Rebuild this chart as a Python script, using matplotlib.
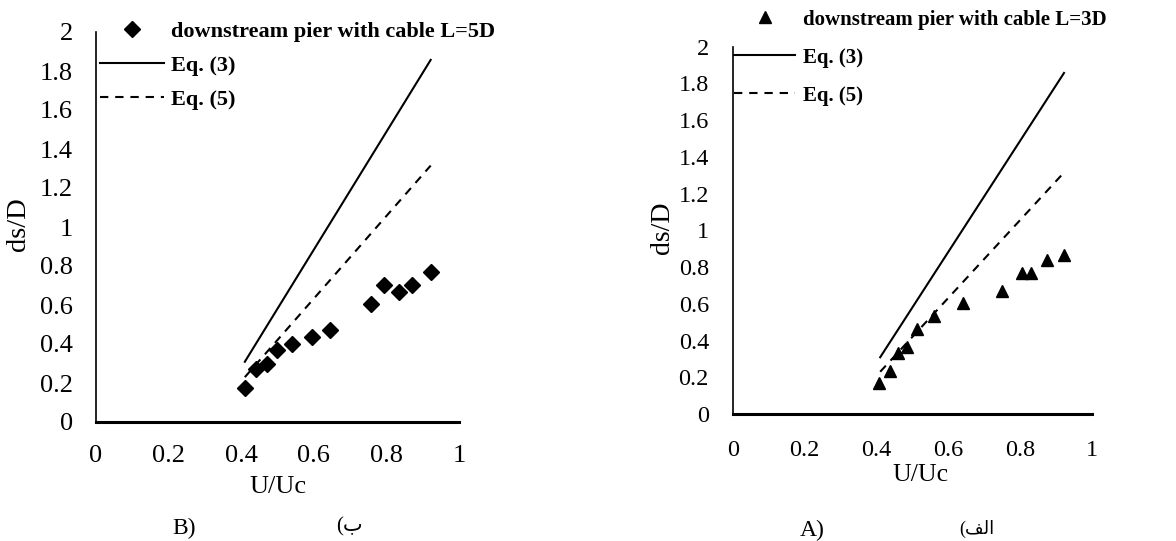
import matplotlib
matplotlib.use("Agg")
import matplotlib.pyplot as plt

plt.rcParams['font.family'] = ['Liberation Serif', 'DejaVu Sans']

# ---- data: panel B (L=5D) ----
x_5d = [0.41, 0.441, 0.47, 0.498, 0.539, 0.594, 0.645, 0.757, 0.794, 0.834, 0.87, 0.923]
y_5d = [0.173, 0.27, 0.30, 0.369, 0.40, 0.437, 0.47, 0.605, 0.705, 0.668, 0.705, 0.77]

# ---- data: panel A (L=3D) ----
x_3d = [0.408, 0.436, 0.459, 0.486, 0.512, 0.561, 0.64, 0.749, 0.804, 0.83, 0.876, 0.922]
y_3d = [0.167, 0.236, 0.33, 0.366, 0.464, 0.533, 0.602, 0.671, 0.769, 0.769, 0.838, 0.866]

# ---- equation lines (endpoints) ----
eq_x = [0.41, 0.922]
eq3_y = [0.309, 1.857]
eq5_y = [0.230, 1.315]

xticks = [0, 0.2, 0.4, 0.6, 0.8, 1]
xtick_labels = ['0', '0.2', '0.4', '0.6', '0.8', '1']
yticks = [0, 0.2, 0.4, 0.6, 0.8, 1, 1.2, 1.4, 1.6, 1.8, 2]
ytick_labels = ['0', '0.2', '0.4', '0.6', '0.8', '1', '1.2', '1.4', '1.6', '1.8', '2']

label_5d = 'downstream pier with cable L=5D'
label_3d = 'downstream pier with cable L=3D'

W, H = 1176, 541
fig = plt.figure(figsize=(W / 100, H / 100), dpi=100)


def px_box(x0, x1, ytop, ybot):
    return [x0 / W, 1 - ybot / H, (x1 - x0) / W, (ybot - ytop) / H]


def style_axes(ax, tick_fs, xlab_fs, ylab_fs, ypad, xpad):
    ax.set_xlim(0, 1)
    ax.set_ylim(0, 2)
    ax.set_xticks(xticks)
    ax.set_xticklabels(xtick_labels)
    ax.set_yticks(yticks)
    ax.set_yticklabels(ytick_labels)
    for s in ['top', 'right']:
        ax.spines[s].set_visible(False)
    ax.spines['left'].set_linewidth(1.2)
    ax.spines['bottom'].set_linewidth(2.2)
    ax.spines['left'].set_color('black')
    ax.spines['bottom'].set_color('black')
    ax.tick_params(axis='both', length=0, labelsize=tick_fs)
    ax.tick_params(axis='y', pad=ypad)
    ax.tick_params(axis='x', pad=xpad)
    ax.set_xlabel('U/Uc', fontsize=xlab_fs)
    ax.set_ylabel('ds/D', fontsize=ylab_fs)
    ax.xaxis.label.set_va('center')
    ax.yaxis.label.set_va('center')


DASH = (0, (4, 3.3))

# Left panel (B)
axL = fig.add_axes(px_box(96, 459, 32, 422))
style_axes(axL, 19, 19, 20.5, 16.6, 16.5)
axL.plot(eq_x, eq3_y, color='black', lw=1.5, label='Eq. (3)')
axL.plot(eq_x, eq5_y, color='black', lw=1.5, linestyle=DASH, label='Eq. (5)')
axL.plot(x_5d, y_5d, linestyle='none', marker='D', ms=8, color='black', label=label_5d)
axL.xaxis.set_label_coords((278 - 96) / 363, (422 - 487) / 390)
axL.yaxis.set_label_coords((18 - 96) / 363, (422 - 224) / 390)

# Right panel (A)
axR = fig.add_axes(px_box(733, 1092, 46.7, 414))
style_axes(axR, 17.5, 18.5, 20, 17.3, 19)
axR.plot(eq_x, eq3_y, color='black', lw=1.5, label='Eq. (3)')
axR.plot(eq_x, eq5_y, color='black', lw=1.5, linestyle=DASH, label='Eq. (5)')
axR.plot(x_3d, y_3d, linestyle='none', marker='^', ms=9, color='black', label=label_3d)
axR.xaxis.set_label_coords((920 - 733) / 359, (414 - 475) / 367.3)
axR.yaxis.set_label_coords((662 - 733) / 359, (414 - 228) / 367.3)


def make_legend(ax, xpx, ypx, fs, hl, htp, spacing):
    h, l = ax.get_legend_handles_labels()
    order = [2, 0, 1]
    leg = ax.legend([h[i] for i in order], [l[i] for i in order],
                    loc='upper left', bbox_to_anchor=(xpx / W, 1 - ypx / H),
                    bbox_transform=fig.transFigure, frameon=False,
                    borderpad=0, borderaxespad=0, handlelength=hl,
                    handletextpad=htp, labelspacing=spacing,
                    prop={'weight': 'bold', 'size': fs, 'family': 'Liberation Serif'})
    return leg


make_legend(axL, 100, 21, 16, 2.88, 0.32, 0.62)
make_legend(axR, 734, 9.5, 15, 2.93, 0.38, 0.87)

# captions
fig.text(184 / W, 1 - 528 / H, 'B)', fontsize=17, ha='center', va='center')
fig.text(349 / W, 1 - 527 / H, '(\u0628', fontsize=15, ha='center', va='center',
         family=['Liberation Serif', 'DejaVu Sans'])
fig.text(812 / W, 1 - 530 / H, 'A)', fontsize=17, ha='center', va='center')
fig.text(977 / W, 1 - 529 / H, '(\ufed2\ufedf\ufe8d', fontsize=13, ha='center', va='center',
         family=['Liberation Serif', 'DejaVu Sans'])

fig.savefig('out.png', dpi=100)
